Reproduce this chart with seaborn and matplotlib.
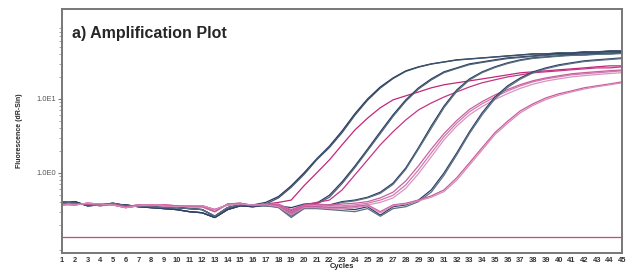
import numpy as np
import pandas as pd
import matplotlib
matplotlib.use('Agg')
import matplotlib.pyplot as plt
from matplotlib.ticker import FixedLocator, LogLocator, NullFormatter
import seaborn as sns

# cycles 1-16 (baseline wobble)
base_a = [0.41, 0.39, 0.37, 0.37, 0.39, 0.36, 0.36, 0.35, 0.34, 0.34, 0.33, 0.32, 0.26, 0.34, 0.37, 0.37]
base_b = [0.38, 0.37, 0.39, 0.38, 0.37, 0.34, 0.36, 0.37, 0.36, 0.35, 0.36, 0.36, 0.32, 0.37, 0.38, 0.37]
base_c = [0.39, 0.41, 0.36, 0.37, 0.38, 0.37, 0.35, 0.34, 0.33, 0.32, 0.30, 0.29, 0.25, 0.32, 0.36, 0.35]
base_d = [0.37, 0.38, 0.38, 0.36, 0.38, 0.35, 0.37, 0.36, 0.37, 0.36, 0.35, 0.35, 0.30, 0.38, 0.39, 0.36]

# cycles 17-45
navy1a = [0.40, 0.48, 0.67, 1.0, 1.55, 2.3, 3.7, 6.3, 10.0, 14.5, 19.2, 23.9, 27.1, 29.7, 31.6, 33.7, 34.7,
          35.8, 36.9, 38.1, 39.3, 40.6, 40.6, 41.8, 41.8, 43.2, 43.2, 44.5, 44.5]
navy1b = [0.38, 0.46, 0.64, 0.95, 1.5, 2.2, 3.5, 6.0, 9.6, 14.0, 18.8, 23.5, 26.8, 29.5, 31.4, 33.4, 34.5,
          35.6, 36.7, 37.9, 39.0, 40.2, 40.4, 41.5, 41.6, 42.8, 43.0, 44.0, 44.2]
pink1 = [0.38, 0.40, 0.43, 0.67, 1.0, 1.5, 2.4, 3.8, 5.5, 7.6, 9.7, 11.0, 12.4, 14.1, 15.5, 16.5, 17.5,
         18.6, 19.8, 21.1, 22.5, 23.2, 23.9, 24.7, 25.4, 26.2, 27.1, 27.9, 27.9]
navy2a = [0.37, 0.36, 0.34, 0.38, 0.39, 0.50, 0.76, 1.24, 2.1, 3.6, 6.1, 9.7, 14.1, 18.6, 23.2, 26.2, 29.7,
          31.6, 33.7, 35.8, 36.9, 38.1, 39.3, 40.6, 40.6, 41.8, 41.8, 43.2, 43.2]
navy2b = [0.36, 0.35, 0.30, 0.36, 0.38, 0.47, 0.72, 1.18, 2.0, 3.4, 5.8, 9.3, 13.6, 18.0, 22.6, 25.7, 29.0,
          31.0, 33.0, 35.0, 36.2, 37.4, 38.6, 39.6, 40.0, 41.0, 41.3, 42.4, 42.6]
pink2 = [0.38, 0.37, 0.31, 0.37, 0.40, 0.43, 0.59, 0.94, 1.5, 2.4, 3.6, 5.2, 7.1, 8.8, 10.6, 12.4, 14.5,
         16.5, 18.1, 19.8, 21.1, 22.5, 23.2, 23.9, 24.7, 25.4, 26.2, 26.2, 27.1]
navy3a = [0.37, 0.36, 0.28, 0.35, 0.36, 0.37, 0.41, 0.43, 0.47, 0.55, 0.73, 1.17, 2.2, 4.3, 8.0, 13.2, 18.6,
          23.2, 27.1, 30.7, 33.7, 35.8, 36.9, 38.1, 39.3, 39.3, 40.6, 40.6, 41.8]
navy3b = [0.36, 0.35, 0.26, 0.33, 0.35, 0.36, 0.40, 0.42, 0.46, 0.53, 0.70, 1.12, 2.1, 4.0, 7.6, 12.6, 18.0,
          22.6, 26.5, 30.0, 33.0, 35.2, 36.4, 37.6, 38.6, 38.9, 39.9, 40.2, 41.0]
pink3a = [0.38, 0.37, 0.30, 0.36, 0.37, 0.36, 0.36, 0.37, 0.39, 0.43, 0.50, 0.69, 1.10, 1.86, 3.1, 4.7, 6.7,
          8.6, 10.6, 12.8, 15.0, 17.0, 18.6, 19.8, 21.1, 21.8, 22.5, 23.2, 23.9]
pink3b = [0.37, 0.36, 0.28, 0.35, 0.36, 0.35, 0.35, 0.36, 0.37, 0.40, 0.46, 0.62, 0.98, 1.65, 2.8, 4.3, 6.1,
          7.9, 9.8, 11.8, 13.9, 15.8, 17.4, 18.6, 19.8, 20.6, 21.3, 22.0, 22.6]
pink3c = [0.38, 0.38, 0.32, 0.37, 0.38, 0.37, 0.38, 0.39, 0.41, 0.46, 0.55, 0.78, 1.25, 2.1, 3.4, 5.1, 7.2,
          9.2, 11.3, 13.4, 15.6, 17.6, 19.2, 20.5, 21.8, 22.6, 23.3, 24.0, 24.6]
navy4a = [0.37, 0.35, 0.27, 0.34, 0.34, 0.33, 0.33, 0.32, 0.35, 0.27, 0.35, 0.37, 0.43, 0.59, 1.0, 1.86, 3.6,
          6.5, 10.6, 15.0, 19.2, 23.2, 26.2, 28.8, 30.7, 32.6, 33.7, 34.7, 35.8]
navy4b = [0.36, 0.34, 0.25, 0.33, 0.33, 0.32, 0.31, 0.30, 0.33, 0.26, 0.33, 0.35, 0.41, 0.55, 0.93, 1.75, 3.4,
          6.1, 10.0, 14.3, 18.5, 22.5, 25.5, 28.0, 30.0, 31.9, 33.0, 34.0, 35.0]
pink4a = [0.38, 0.36, 0.29, 0.35, 0.35, 0.34, 0.34, 0.35, 0.37, 0.30, 0.37, 0.39, 0.43, 0.49, 0.59, 0.86, 1.37,
          2.2, 3.5, 5.0, 6.9, 8.6, 10.3, 11.7, 12.8, 14.1, 15.0, 15.9, 17.0]
pink4b = [0.37, 0.35, 0.27, 0.34, 0.34, 0.33, 0.33, 0.34, 0.36, 0.29, 0.36, 0.38, 0.42, 0.47, 0.56, 0.80, 1.28,
          2.05, 3.3, 4.7, 6.5, 8.2, 9.8, 11.2, 12.4, 13.6, 14.6, 15.5, 16.5]

threshold = 0.136
cycles = list(range(1, 46))

wells = {
    'navy1a': (base_a, navy1a, '#26345f'), 'navy1b': (base_c, navy1b, '#3d5468'),
    'pink1': (base_b, pink1, '#c0287a'),
    'navy2a': (base_c, navy2a, '#2a3868'), 'navy2b': (base_a, navy2b, '#4b6272'),
    'pink2': (base_d, pink2, '#c43584'),
    'navy3a': (base_a, navy3a, '#2c3a66'), 'navy3b': (base_c, navy3b, '#56707c'),
    'pink3a': (base_b, pink3a, '#d07aaf'), 'pink3b': (base_d, pink3b, '#d994c0'),
    'pink3c': (base_b, pink3c, '#c9609f'),
    'navy4a': (base_c, navy4a, '#2e3d6a'), 'navy4b': (base_a, navy4b, '#5a6f80'),
    'pink4a': (base_d, pink4a, '#cc5a9c'), 'pink4b': (base_b, pink4b, '#d58ab9'),
}

rows = []
for name, (base, tail, _) in wells.items():
    for c, v in zip(cycles, base + tail):
        rows.append({'Cycle': c, 'Fluorescence': v, 'Well': name})
df = pd.DataFrame(rows)
palette = {k: v[2] for k, v in wells.items()}

sns.set_style('white')
plt.rcParams['font.family'] = ['Liberation Sans', 'DejaVu Sans']

fig = plt.figure(figsize=(6.33, 2.70), dpi=100)
ax = fig.add_axes([0.098, 0.063, 0.885, 0.904])

ax.axhline(threshold, color='#c84a7a', lw=0.9)
sns.lineplot(data=df, x='Cycle', y='Fluorescence', hue='Well', palette=palette,
             estimator=None, legend=False, lw=0.9, ax=ax)

ax.set_yscale('log')
ax.set_xlim(1, 45)
ax.set_ylim(0.083, 164)
ax.set_xticks(cycles)
ax.set_xticklabels([str(c) for c in cycles], fontsize=5.4, fontweight='bold', color='#333333')
ax.yaxis.set_major_locator(FixedLocator([1, 10]))
ax.set_yticklabels(['1.0E0', '1.0E1'], fontsize=5.4, color='#555555')
ax.yaxis.set_minor_locator(LogLocator(base=10, subs=np.arange(2, 10)))
ax.yaxis.set_minor_formatter(NullFormatter())
ax.tick_params(axis='x', length=2, pad=1, color='#777777')
ax.tick_params(axis='y', which='major', length=3, pad=1, color='#777777', left=True)
ax.tick_params(axis='y', which='minor', length=2, color='#999999', left=True)

ax.set_xlabel('Cycles', fontsize=5.5, fontweight='bold', labelpad=-1)
ax.set_ylabel('Fluorescence (dR-Sin)', fontsize=5, fontweight='bold', labelpad=10)

for side in ['left', 'bottom', 'right', 'top']:
    ax.spines[side].set_color('#777777')
    ax.spines[side].set_linewidth(1.4)

ax.text(0.018, 0.9, 'a) Amplification Plot', transform=ax.transAxes,
        fontsize=11.5, fontweight='bold', va='center', ha='left')

plt.savefig('out.png', dpi=100)
